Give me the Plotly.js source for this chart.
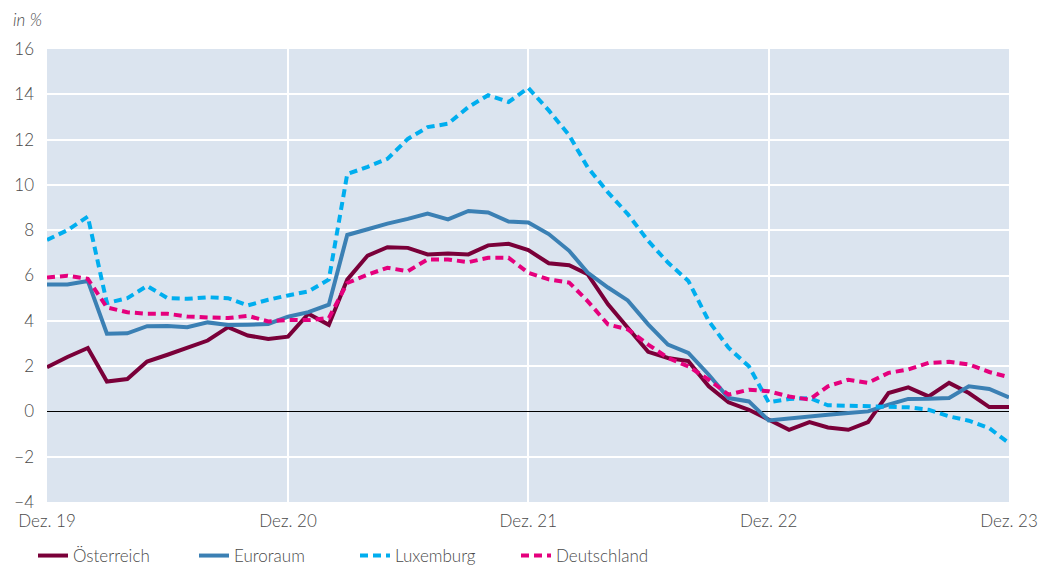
<!DOCTYPE html>
<html>
<head>
<meta charset="utf-8">
<script src="https://cdn.plot.ly/plotly-3.0.1.min.js"></script>
<style>
html,body{margin:0;padding:0;background:#fff;}
#chart{width:1042px;height:566px;}
</style>
</head>
<body>
<div id="chart"></div>
<script>
const months = [
 '2019-12-01','2020-01-01','2020-02-01','2020-03-01','2020-04-01','2020-05-01','2020-06-01','2020-07-01','2020-08-01','2020-09-01','2020-10-01','2020-11-01',
 '2020-12-01','2021-01-01','2021-02-01','2021-03-01','2021-04-01','2021-05-01','2021-06-01','2021-07-01','2021-08-01','2021-09-01','2021-10-01','2021-11-01',
 '2021-12-01','2022-01-01','2022-02-01','2022-03-01','2022-04-01','2022-05-01','2022-06-01','2022-07-01','2022-08-01','2022-09-01','2022-10-01','2022-11-01',
 '2022-12-01','2023-01-01','2023-02-01','2023-03-01','2023-04-01','2023-05-01','2023-06-01','2023-07-01','2023-08-01','2023-09-01','2023-10-01','2023-11-01',
 '2023-12-01'
];
const oesterreich = [
 1.95,2.4,2.8,1.32,1.43,2.2,2.5,2.8,3.13,3.72,3.35,3.2,
 3.3,4.31,3.82,5.82,6.88,7.25,7.22,6.93,6.97,6.93,7.33,7.4,
 7.12,6.54,6.45,6.06,4.73,3.69,2.63,2.36,2.22,1.11,0.4,0.07,
 -0.35,-0.81,-0.47,-0.71,-0.81,-0.47,0.81,1.06,0.66,1.26,0.81,0.19,
 0.19
];
const euroraum = [
 5.6,5.6,5.76,3.43,3.45,3.76,3.77,3.72,3.93,3.82,3.83,3.86,
 4.18,4.38,4.71,7.79,8.04,8.29,8.5,8.73,8.48,8.85,8.78,8.38,
 8.34,7.83,7.09,6.13,5.47,4.9,3.84,2.95,2.58,1.62,0.59,0.44,
 -0.4,-0.3,-0.22,-0.15,-0.07,0.0,0.3,0.55,0.56,0.59,1.11,0.99,
 0.62
];
const luxemburg = [
 7.57,8.0,8.6,4.78,5.0,5.54,5.0,4.97,5.04,5.0,4.68,4.93,
 5.12,5.3,5.82,10.48,10.8,11.15,12.03,12.55,12.7,13.44,13.96,13.66,
 14.28,13.29,12.19,10.78,9.67,8.71,7.53,6.57,5.76,3.99,2.81,1.99,
 0.4,0.55,0.59,0.27,0.25,0.22,0.22,0.18,0.07,-0.22,-0.41,-0.74,
 -1.4
];
const deutschland = [
 5.91,5.99,5.85,4.59,4.38,4.31,4.31,4.19,4.15,4.12,4.22,3.97,
 4.04,4.03,4.12,5.67,6.04,6.34,6.19,6.71,6.71,6.59,6.78,6.78,
 6.12,5.83,5.69,4.87,3.84,3.62,2.95,2.36,1.99,1.4,0.74,0.96,
 0.89,0.66,0.52,1.11,1.4,1.26,1.7,1.85,2.14,2.19,2.07,1.74,
 1.51
];
const tickDates = ['2019-12-01','2020-12-01','2021-12-01','2022-12-01','2023-12-01'];
const tickLabels = ['Dez. 19','Dez. 20','Dez. 21','Dez. 22','Dez. 23'];
const yTicks = [-4,-2,0,2,4,6,8,10,12,14,16];
const yTickLabels = ['\u22124','\u22122','0','2','4','6','8','10','12','14','16'];

const traces = [
 {name:'Österreich', y:oesterreich, color:'#7a0039', dash:'solid'},
 {name:'Euroraum', y:euroraum, color:'#3b80b4', dash:'solid'},
 {name:'Luxemburg', y:luxemburg, color:'#00aeef', dash:'8px,5px'},
 {name:'Deutschland', y:deutschland, color:'#e5007d', dash:'8px,5px'}
].map(s => ({
 type:'scatter', mode:'lines', x:months, y:s.y, name:s.name,
 line:{color:s.color, width:4, dash:s.dash}
}));

const txt = '#4a4a4a';
const fs = 17;
const layout = {
 width:1042, height:566,
 margin:{l:47, r:33, t:49, b:64, autoexpand:false},
 paper_bgcolor:'#ffffff',
 plot_bgcolor:'#dbe4ef',
 font:{family:'Lato, "Open Sans", sans-serif', size:fs, color:txt, weight:300},
 showlegend:true,
 legend:{orientation:'h', xref:'container', yref:'container', x:33/1042, xanchor:'left', y:10/566, yanchor:'middle',
   font:{size:fs, color:txt, weight:300}, traceorder:'normal', entrywidthmode:'pixels', entrywidth:116,
   itemwidth:30, tracegroupgap:0, bgcolor:'rgba(0,0,0,0)'},
 xaxis:{type:'date', range:['2019-12-01','2023-12-01'], tickvals:tickDates, ticktext:tickLabels,
   showgrid:true, gridcolor:'#ffffff', gridwidth:2, zeroline:false, showline:false,
   ticks:'', tickfont:{size:fs, color:txt, weight:300}, ticklabelstandoff:7, automargin:false, fixedrange:true},
 yaxis:{range:[-4,16], tickvals:yTicks, ticktext:yTickLabels, showgrid:true, gridcolor:'#ffffff', gridwidth:2,
   zeroline:true, zerolinecolor:'#000000', zerolinewidth:1, showline:false, ticks:'',
   tickfont:{size:fs, color:txt, weight:300}, ticklabelstandoff:12, automargin:false, fixedrange:true},
 annotations:[{text:'<i>in %</i>', xref:'paper', yref:'paper', x:-36/962, y:(502-19)/453, xanchor:'left', yanchor:'middle',
   showarrow:false, font:{size:fs, color:txt, weight:300}}]
};
Plotly.newPlot('chart', traces, layout, {displayModeBar:false, staticPlot:true});
</script>
</body>
</html>
